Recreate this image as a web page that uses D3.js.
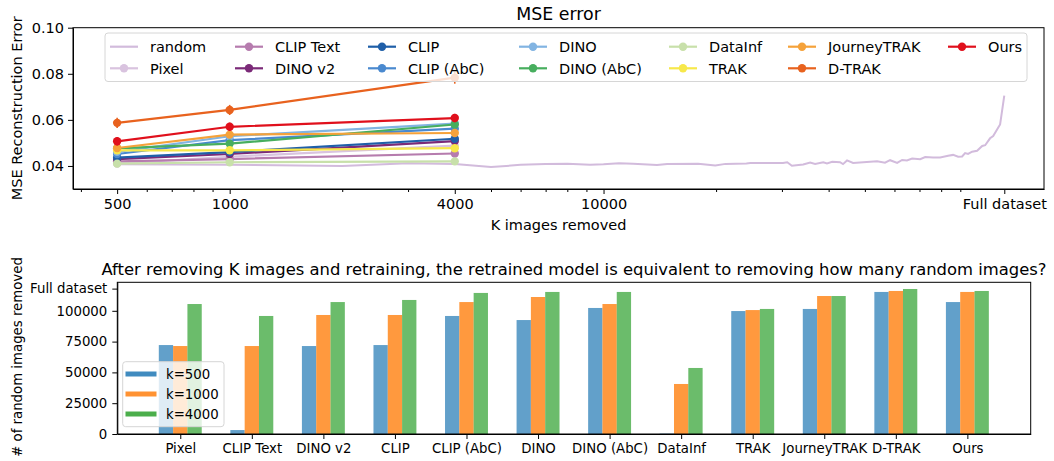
<!DOCTYPE html>
<html>
<head>
<meta charset="utf-8">
<script src="https://cdn.jsdelivr.net/npm/d3@7"></script>
<style>
body { margin: 0; background: #fff; }
text { font-family: "DejaVu Sans", sans-serif; }
</style>
</head>
<body>
<script>
// ---- data ----
const FULL = 118000;
const kRemoved = [500, 1000, 4000];

const methods = ["Pixel", "CLIP Text", "DINO v2", "CLIP", "CLIP (AbC)", "DINO",
                 "DINO (AbC)", "DataInf", "TRAK", "JourneyTRAK", "D-TRAK", "Ours"];
const methodColors = ["#d9c3df", "#b67cae", "#7b2a78", "#1f5fa8", "#4a89cf", "#82b4e2",
                      "#47ae5e", "#c8e0aa", "#f7e84a", "#f5a23a", "#e8621e", "#e0101c"];

const mseValues = [
  [0.0410, 0.0440, 0.0488],
  [0.0420, 0.0430, 0.0454],
  [0.0430, 0.0452, 0.0508],
  [0.0436, 0.0460, 0.0518],
  [0.0452, 0.0512, 0.0562],
  [0.0461, 0.0529, 0.0584],
  [0.0476, 0.0497, 0.0580],
  [0.0410, 0.0416, 0.0420],
  [0.0468, 0.0468, 0.0477],
  [0.0478, 0.0536, 0.0543],
  [0.0587, 0.0643, 0.0783],
  [0.0507, 0.0570, 0.0608]
];
const mseErr = [
  [0.0012, 0.0012, 0.0012],
  [0.0012, 0.0012, 0.0012],
  [0.0012, 0.0012, 0.0012],
  [0.0012, 0.0012, 0.0012],
  [0.0012, 0.0012, 0.0012],
  [0.0012, 0.0012, 0.0012],
  [0.0012, 0.0012, 0.0012],
  [0.0012, 0.0012, 0.0012],
  [0.0014, 0.0014, 0.0014],
  [0.0014, 0.0014, 0.0014],
  [0.0022, 0.0022, 0.0026],
  [0.0018, 0.0018, 0.0018]
];

const randomColor = "#d2bbdc";
const randomK = [500, 1000, 2000, 3000, 4000, 5000, 6000, 7000, 8000, 9200, 10000, 11000,
  12000, 13900, 14800, 17900, 19900, 21200, 24100, 24700, 30200, 31000, 31900, 34200,
  35700, 36800, 38700, 39600, 40900, 42900, 43700, 44800, 46500, 53900, 56600, 58400,
  61000, 62900, 64800, 66900, 70300, 72500, 76100, 79500, 83500, 86100, 88800, 91000,
  92700, 94400, 96800, 99800, 103000, 104900, 108100, 110200, 113600, 115000, 118000];
const randomMse = [0.0407, 0.0405, 0.0400, 0.0412, 0.0408, 0.0395, 0.0405, 0.0409, 0.0410,
  0.0405, 0.0407, 0.0412, 0.0410, 0.0404, 0.0409, 0.0410, 0.0402, 0.0409, 0.0411, 0.0413,
  0.0413, 0.0416, 0.0401, 0.0406, 0.0415, 0.0409, 0.0416, 0.0411, 0.0418, 0.0416, 0.0408,
  0.0424, 0.0413, 0.0420, 0.0414, 0.0425, 0.0413, 0.0426, 0.0424, 0.0432, 0.0429, 0.0439,
  0.0437, 0.0437, 0.0444, 0.0448, 0.0440, 0.0441, 0.0456, 0.0452, 0.0462, 0.0466, 0.0487,
  0.0490, 0.0520, 0.0530, 0.0566, 0.0580, 0.0705];

const xMajor = [500, 1000, 4000, 10000, FULL];
const xMajorLabels = ["500", "1000", "4000", "10000", "Full dataset"];
const xMinor = [400, 600, 700, 800, 900, 2000, 3000, 5000, 6000, 7000, 8000, 9000,
                20000, 30000, 40000, 50000, 60000, 70000, 80000, 90000];
const yTicksTop = [0.04, 0.06, 0.08, 0.10];

// bar chart
const barK = ["k=500", "k=1000", "k=4000"];
const barColors = ["#1f77b4", "#ff7f0e", "#2ca02c"];
const barAlpha = [0.7, 0.8, 0.7];
const k500 = [72200, 3200, 71400, 72200, 95800, 92500, 102300, 300, 99800, 101500, 115300, 107100];
const k1000 = [71400, 71400, 96600, 96600, 107100, 111200, 105500, 40600, 100600, 112000, 116100, 115300];
const k4000 = [105500, 95800, 107100, 108800, 114500, 115300, 115300, 53600, 101500, 112000, 117700, 116100];
const yTicksBottom = [0, 25000, 50000, 75000, 100000, FULL];

// ---- drawing ----
const W = 1054, H = 461;
const svg = d3.select("body").append("svg")
  .attr("width", W).attr("height", H);

const FS = 14.5;   // top panel text
const FS2 = 13.3;  // bottom panel text

// ===== top panel =====
const pTop = { l: 73, r: 1044, t: 27.7, b: 189 };
const x = d3.scaleLog().domain([381, 150700]).range([pTop.l, pTop.r]);
const y = d3.scaleLinear().domain([0.03, 0.10]).range([pTop.b, pTop.t]);

svg.append("text")
  .attr("x", (pTop.l + pTop.r) / 2).attr("y", 19.5)
  .attr("text-anchor", "middle").attr("font-size", 17.4)
  .text("MSE error");

svg.append("g").attr("transform", `translate(0,${pTop.b})`)
  .call(d3.axisBottom(x).tickValues(xMajor)
    .tickFormat((d, i) => xMajorLabels[i]).tickSize(5).tickPadding(5).tickSizeOuter(0));
svg.append("g").attr("transform", `translate(0,${pTop.b})`)
  .call(d3.axisBottom(x).tickValues(xMinor).tickFormat("").tickSize(3).tickSizeOuter(0))
  .select(".domain").remove();

svg.append("g").attr("transform", `translate(${pTop.l},0)`)
  .call(d3.axisLeft(y).tickValues(yTicksTop).tickFormat(d3.format(".2f"))
    .tickSize(5).tickPadding(4).tickSizeOuter(0));

svg.selectAll(".tick text").attr("font-size", FS).attr("font-family", "DejaVu Sans");
svg.selectAll(".tick line").attr("stroke-width", 1);

svg.append("text")
  .attr("x", (pTop.l + pTop.r) / 2).attr("y", 230)
  .attr("text-anchor", "middle").attr("font-size", FS)
  .text("K images removed");
svg.append("text")
  .attr("transform", `translate(22,${(pTop.t + pTop.b) / 2}) rotate(-90)`)
  .attr("text-anchor", "middle").attr("font-size", FS)
  .text("MSE Reconstruction Error");

const line = d3.line().x(d => x(d[0])).y(d => y(d[1]));

svg.append("path")
  .datum(randomK.map((k, i) => [k, randomMse[i]]))
  .attr("d", line).attr("fill", "none")
  .attr("stroke", randomColor).attr("stroke-width", 2);

methods.forEach((m, mi) => {
  const pts = kRemoved.map((k, i) => [k, mseValues[mi][i]]);
  const g = svg.append("g");
  g.append("path").datum(pts).attr("d", line)
    .attr("fill", "none").attr("stroke", methodColors[mi]).attr("stroke-width", 2.2);
  g.selectAll("line.err").data(pts).join("line")
    .attr("x1", d => x(d[0])).attr("x2", d => x(d[0]))
    .attr("y1", (d, i) => y(d[1] - mseErr[mi][i]))
    .attr("y2", (d, i) => y(d[1] + mseErr[mi][i]))
    .attr("stroke", methodColors[mi]).attr("stroke-width", 1.6);
  g.selectAll("circle").data(pts).join("circle")
    .attr("cx", d => x(d[0])).attr("cy", d => y(d[1])).attr("r", 4.2)
    .attr("fill", methodColors[mi]);
});

svg.append("rect")
  .attr("x", pTop.l).attr("y", pTop.t)
  .attr("width", pTop.r - pTop.l).attr("height", pTop.b - pTop.t)
  .attr("fill", "none").attr("stroke", "#000").attr("stroke-width", 1);

// top legend
const leg = svg.append("g");
leg.append("rect")
  .attr("x", 105).attr("y", 33).attr("width", 922).attr("height", 48.5)
  .attr("rx", 3).attr("fill", "#fff").attr("fill-opacity", 0.8)
  .attr("stroke", "#d6d6d6").attr("stroke-width", 1);
const legNames = ["random"].concat(methods);
const legColors = [randomColor].concat(methodColors);
const colText = [150, 275, 408, 559, 709, 828, 988];
const rowY = [46.7, 68.3];
legNames.forEach((n, i) => {
  const cx = colText[Math.floor(i / 2)], cy = rowY[i % 2];
  leg.append("line")
    .attr("x1", cx - 40).attr("x2", cx - 12).attr("y1", cy).attr("y2", cy)
    .attr("stroke", legColors[i]).attr("stroke-width", 2.2);
  if (i > 0) {
    leg.append("circle").attr("cx", cx - 26).attr("cy", cy).attr("r", 4.2)
      .attr("fill", legColors[i]);
  }
  leg.append("text").attr("x", cx).attr("y", cy + 5.2)
    .attr("font-size", FS).text(n);
});

// ===== bottom panel =====
const pBot = { l: 117.3, r: 1030.7, t: 282.3, b: 434 };
const bx = d3.scaleLinear().domain([-0.88, 11.885]).range([pBot.l, pBot.r]);
const by = d3.scaleLinear().domain([0, 25000 * (pBot.b - pBot.t) / 30.8]).range([pBot.b, pBot.t]);
const bw = 0.2;

svg.append("text")
  .attr("x", (pBot.l + pBot.r) / 2).attr("y", 275)
  .attr("text-anchor", "middle").attr("font-size", 16.4)
  .text("After removing K images and retraining, the retrained model is equivalent to removing how many random images?");

const series = [k500, k1000, k4000];
series.forEach((vals, si) => {
  svg.append("g").selectAll("rect").data(vals).join("rect")
    .attr("x", (d, i) => bx(i + (si - 1) * bw - bw / 2))
    .attr("width", bx(bw) - bx(0))
    .attr("y", d => by(d))
    .attr("height", d => by(0) - by(d))
    .attr("fill", barColors[si]).attr("fill-opacity", barAlpha[si]);
});

const gbx = svg.append("g").attr("transform", `translate(0,${pBot.b})`)
  .call(d3.axisBottom(bx).tickValues(d3.range(methods.length))
    .tickFormat(i => methods[i]).tickSize(5).tickPadding(4.5).tickSizeOuter(0));
const gby = svg.append("g").attr("transform", `translate(${pBot.l},0)`)
  .call(d3.axisLeft(by).tickValues(yTicksBottom)
    .tickFormat(d => d === FULL ? "Full dataset" : d3.format("d")(d))
    .tickSize(5).tickPadding(5).tickSizeOuter(0));
[gbx, gby].forEach(g => {
  g.selectAll(".tick text").attr("font-size", FS2).attr("font-family", "DejaVu Sans");
  g.selectAll(".tick line").attr("stroke-width", 1);
});

svg.append("text")
  .attr("transform", `translate(22,357) rotate(-90)`)
  .attr("text-anchor", "middle").attr("font-size", FS2)
  .text("# of random images removed");

svg.append("rect")
  .attr("x", pBot.l).attr("y", pBot.t)
  .attr("width", pBot.r - pBot.l).attr("height", pBot.b - pBot.t)
  .attr("fill", "none").attr("stroke", "#000").attr("stroke-width", 1);

// bottom legend
const leg2 = svg.append("g");
leg2.append("rect")
  .attr("x", 122.7).attr("y", 361.7).attr("width", 101.3).attr("height", 65)
  .attr("rx", 3).attr("fill", "#fff").attr("fill-opacity", 0.8)
  .attr("stroke", "#d6d6d6").attr("stroke-width", 1);
barK.forEach((n, i) => {
  const cy = 374 + i * 20;
  leg2.append("line")
    .attr("x1", 125.5).attr("x2", 156.5).attr("y1", cy).attr("y2", cy)
    .attr("stroke", barColors[i]).attr("stroke-opacity", 0.85).attr("stroke-width", 5);
  leg2.append("text").attr("x", 166).attr("y", cy + 4.8)
    .attr("font-size", FS2).text(n);
});
</script>
</body>
</html>
